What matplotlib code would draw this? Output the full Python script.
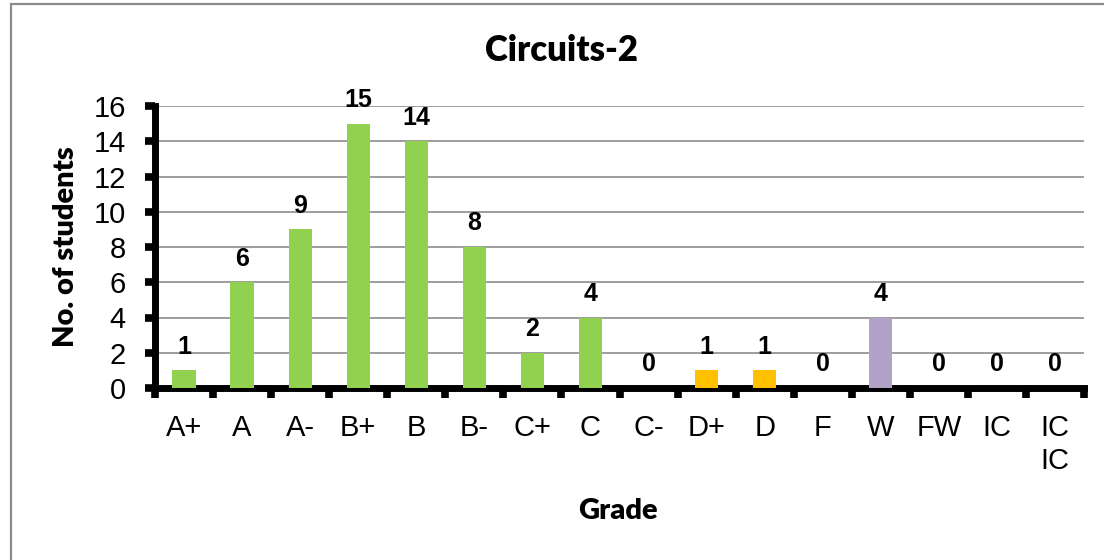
import matplotlib
matplotlib.use("Agg")
import matplotlib.pyplot as plt
from matplotlib.patches import Rectangle
import numpy as np

grades = ["A+", "A", "A-", "B+", "B", "B-", "C+", "C", "C-", "D+", "D", "F", "W", "FW", "IC", "IC\nIC"]
counts = [1, 6, 9, 15, 14, 8, 2, 4, 0, 1, 1, 0, 4, 0, 0, 0]
bar_colors = ["#92D050"] * 8 + ["#FFC000"] * 4 + ["#B3A2C7"] + ["#FFC000"] * 3
title = "Circuits-2"
xlabel = "Grade"
ylabel = "No. of students"
yticks = [0, 2, 4, 6, 8, 10, 12, 14, 16]

W, H = 1104, 560
fig = plt.figure(figsize=(W / 100, H / 100), dpi=100)
fig.patch.set_facecolor("white")

# outer chart border (gray)
fig.patches.append(Rectangle((11 / W, -0.1), 1.2, 1 - 4 / H + 0.1, transform=fig.transFigure,
                             fill=False, edgecolor="#8C8C8C", linewidth=1.6))

ax = fig.add_axes([155 / W, 1 - 388 / H, (1084 - 155) / W, (388 - 106) / H])
x = np.arange(len(grades))
ax.bar(x, counts, width=0.40, color=bar_colors, zorder=3)

ax.set_xlim(-0.5, len(grades) - 0.5)
ax.set_ylim(0, 16)

ax.set_yticks(yticks)
ax.set_yticklabels([str(v) for v in yticks], fontsize=21, family="Liberation Sans")
ax.yaxis.grid(True, color="#8C8C8C", linewidth=1.2, zorder=0)
ax.set_axisbelow(True)

# major x ticks at boundaries, labels at centers via minor ticks
ax.set_xticks(np.arange(-0.5, len(grades), 1.0))
ax.set_xticklabels([])
ax.set_xticks(x, minor=True)
ax.set_xticklabels(grades, minor=True, fontsize=21, family="Liberation Sans", va="top")
ax.tick_params(axis="x", which="minor", length=0, pad=19)
ax.tick_params(axis="x", which="major", length=7, width=5.5, direction="out", color="black")
ax.tick_params(axis="y", which="major", length=7, width=5.5, direction="out", color="black", pad=14)

for s in ["top", "right"]:
    ax.spines[s].set_visible(False)
for s in ["left", "bottom"]:
    ax.spines[s].set_linewidth(5)
    ax.spines[s].set_color("black")

for xi, v in zip(x, counts):
    ax.annotate(str(v), (xi, v), xytext=(0, 12), textcoords="offset points",
                ha="center", va="baseline", fontsize=18, fontweight="bold",
                family="Liberation Sans", zorder=5)

fig.text(562 / W, 1 - 61 / H, title, ha="center", va="baseline", fontsize=25,
         fontweight="heavy", family="Lato")
fig.text(618 / W, 1 - 519 / H, xlabel, ha="center", va="baseline", fontsize=21,
         fontweight="heavy", family="Lato")
fig.text(66 / W, 1 - 247 / H, ylabel, ha="center", va="center", rotation=90, fontsize=21,
         fontweight="heavy", family="Lato")

fig.savefig("out.png", dpi=100, facecolor="white")
